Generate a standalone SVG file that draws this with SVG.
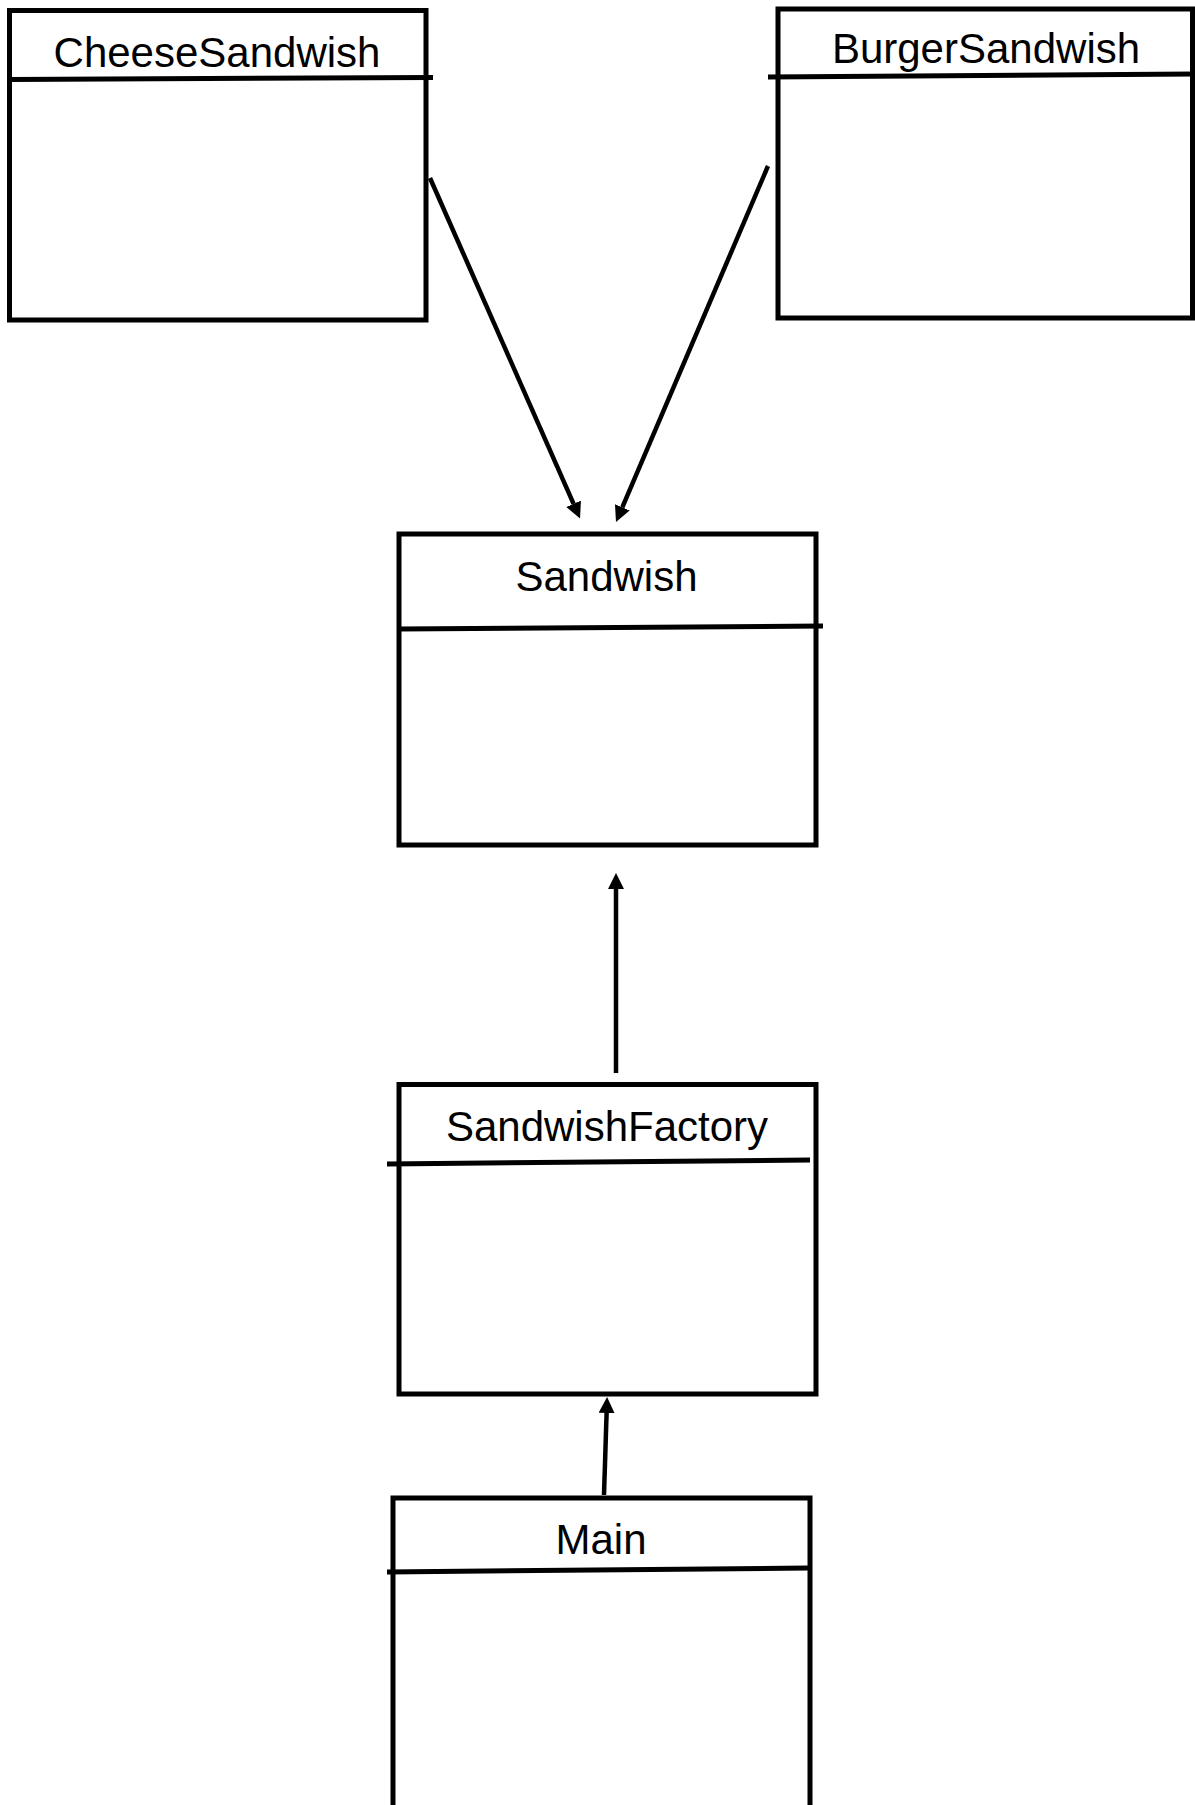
<svg xmlns="http://www.w3.org/2000/svg" width="1195" height="1805" viewBox="0 0 1195 1805">
  <defs>
    <style>
      .box { fill: none; stroke: #000; stroke-width: 5; }
      .div { stroke: #000; stroke-width: 5; fill: none; }
      .lbl { font-family: "Liberation Sans", Arial, sans-serif; font-size: 42px; fill: #000; text-anchor: middle; }
      .conn { stroke: #000; stroke-width: 4.5; fill: none; marker-end: url(#arrow); }
    </style>
    <marker id="arrow" markerUnits="userSpaceOnUse" markerWidth="16" markerHeight="16" refX="0" refY="8" orient="auto">
      <path d="M0,0 L16,8 L0,16 z" fill="#000"/>
    </marker>
  </defs>
  <rect width="1195" height="1805" fill="#fff"/>

  <g id="CheeseSandwish">
    <rect class="box" x="9.5" y="10.5" width="416.5" height="309.5"/>
    <line class="div" x1="9.5" y1="79.5" x2="433" y2="77.5"/>
    <text class="lbl" x="217" y="67">CheeseSandwish</text>
  </g>

  <g id="BurgerSandwish">
    <rect class="box" x="778" y="9" width="414.5" height="309"/>
    <line class="div" x1="768" y1="77" x2="1195" y2="74"/>
    <text class="lbl" x="986" y="63">BurgerSandwish</text>
  </g>

  <g id="Sandwish">
    <rect class="box" x="399" y="534" width="417" height="311"/>
    <line class="div" x1="399" y1="629" x2="823" y2="626"/>
    <text class="lbl" x="606.5" y="591">Sandwish</text>
  </g>

  <g id="SandwishFactory">
    <rect class="box" x="399" y="1084.5" width="417" height="309.5"/>
    <line class="div" x1="387" y1="1164" x2="810" y2="1160"/>
    <text class="lbl" x="607" y="1141">SandwishFactory</text>
  </g>

  <g id="Main">
    <rect class="box" x="393" y="1498" width="417" height="400"/>
    <line class="div" x1="387" y1="1572" x2="808" y2="1568"/>
    <text class="lbl" x="601" y="1554">Main</text>
  </g>

  <g id="connectors">
    <line class="conn" x1="430" y1="178" x2="573.6" y2="503.8"/>
    <line class="conn" x1="768" y1="166" x2="622.3" y2="507.3"/>
    <line class="conn" x1="616" y1="1073" x2="616" y2="889"/>
    <line class="conn" x1="604" y1="1495" x2="606.6" y2="1413"/>
  </g>
</svg>
